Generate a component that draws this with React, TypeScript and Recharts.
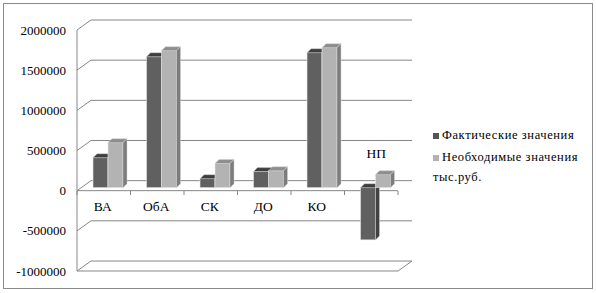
import { BarChart, Bar, XAxis, YAxis, CartesianGrid, Legend } from "recharts"

const categories = ["ВА", "ОбА", "СК", "ДО", "КО", "НП"]
const actualValues = [373000, 1630000, 112000, 200000, 1680000, -650000]
const requiredValues = [560000, 1705000, 300000, 210000, 1743000, 162000]
const yTicks = [-1000000, -500000, 0, 500000, 1000000, 1500000, 2000000]
const seriesNames = ["Фактические значения", "Необходимые значения"]
const unitLabel = "тыс.руб."

const data = categories.map((name, i) => ({
  name,
  actual: actualValues[i],
  required: requiredValues[i],
}))

const FONT = "'Liberation Serif', 'Times New Roman', serif"
const GRID = "#868686"
// depth of the fake 3d wall / bars
const WALL_DX = 14
const WALL_DY = -10
const BAR_DX = 4
const BAR_DY = -3
const DEPTH = 4
const PLOT_LEFT = 77
const PLOT_RIGHT = 398
const ZERO_Y = 191
const BAND = (PLOT_RIGHT - PLOT_LEFT) / categories.length

const makeBar = (front: string, top: string, side: string) => (props: any) => {
  const { x, y, width, height } = props
  if (width == null || height == null) return <g />
  const t = Math.min(y, y + height) + BAR_DY
  const h = Math.abs(height)
  const l = x + BAR_DX
  const r = l + width
  return (
    <g>
      <rect x={l} y={t} width={width} height={h} fill={front} stroke="#e6e6e6" strokeWidth={0.6} />
      <polygon
        points={`${l},${t} ${l + DEPTH},${t - DEPTH} ${r + DEPTH},${t - DEPTH} ${r},${t}`}
        fill={top}
        stroke="#d0d0d0"
        strokeWidth={0.5}
      />
      <polygon
        points={`${r},${t} ${r + DEPTH},${t - DEPTH} ${r + DEPTH},${t + h - DEPTH} ${r},${t + h}`}
        fill={side}
        stroke="#d0d0d0"
        strokeWidth={0.5}
      />
    </g>
  )
}

const DarkBar = makeBar("#606060", "#3e3e3e", "#424242")
const LightBar = makeBar("#b3b3b3", "#8e8e8e", "#7c7c7c")

const gridLine = (props: any) => {
  const { x1, x2, y1 } = props
  const bx = x1 + WALL_DX
  const by = y1 + WALL_DY
  let d = `M${x1},${y1} L${bx},${by} L${x2 + WALL_DX},${by}`
  if (y1 > 265) {
    d += ` M${x1},${y1} L${x2},${y1} L${x2 + WALL_DX},${by}`
  }
  if (Math.abs(y1 - ZERO_Y) < 1.5) {
    d += ` M${x1},${y1} L${x2},${y1}`
  }
  return <path key={`g-${y1}`} d={d} stroke={GRID} strokeWidth={1} fill="none" />
}

const CategoryTick = (props: any) => {
  const { x, payload, index } = props
  const label = payload.value
  const isNp = label === "НП"
  const lx = isNp ? x + 5 : x - 1
  const ly = isNp ? 158 : 211
  const right = x + BAND / 2
  return (
    <g>
      {index === 0 && (
        <line x1={x - BAND / 2} x2={x - BAND / 2} y1={ZERO_Y} y2={ZERO_Y + 4} stroke={GRID} />
      )}
      <line x1={right} x2={right} y1={ZERO_Y} y2={ZERO_Y + 4} stroke={GRID} />
      <text x={lx} y={ly} textAnchor="middle" fontSize={13.5} fontFamily={FONT} fill="#000">
        {label}
      </text>
    </g>
  )
}

const LegendBox = () => (
  <div style={{ fontFamily: FONT, fontSize: 12.5, letterSpacing: 0.6, color: "#000", lineHeight: "22px" }}>
    <div>
      <span style={{ display: "inline-block", width: 6, height: 6, background: "#555", marginRight: 3 }} />
      {seriesNames[0]}
    </div>
    <div>
      <span style={{ display: "inline-block", width: 6, height: 6, background: "#b3b3b3", marginRight: 3 }} />
      {seriesNames[1]}
    </div>
    <div style={{ marginTop: -2 }}>{unitLabel}</div>
  </div>
)

export default function App() {
  return (
    <div style={{ position: "absolute", left: 0, top: 0, width: 596, height: 293, background: "#fff" }}>
      <div
        style={{
          position: "absolute",
          left: 3,
          top: 3,
          width: 588,
          height: 284,
          border: "1px solid #8a8a8a",
        }}
      />
      <BarChart
        width={596}
        height={293}
        data={data}
        margin={{ top: 30, right: 198, bottom: 21, left: 17 }}
        barSize={15}
        barGap={0}
        style={{ fontFamily: FONT }}
      >
        <CartesianGrid vertical={false} horizontal={gridLine} />
        <XAxis
          dataKey="name"
          height={1}
          axisLine={false}
          tickLine={false}
          tickSize={0}
          tickMargin={0}
          interval={0}
          tick={CategoryTick}
        />
        <YAxis
          width={60}
          domain={[-1000000, 2000000]}
          ticks={yTicks}
          interval={0}
          axisLine={{ stroke: GRID }}
          tickLine={false}
          tickSize={0}
          tickMargin={11}
          tick={{ fill: "#000", fontSize: 13, fontFamily: FONT }}
        />
        <Legend
          layout="vertical"
          align="center"
          verticalAlign="middle"
          wrapperStyle={{ left: 433, top: 124, width: 160 }}
          content={LegendBox}
        />
        <Bar dataKey="actual" name={seriesNames[0]} shape={DarkBar} isAnimationActive={false} />
        <Bar dataKey="required" name={seriesNames[1]} shape={LightBar} isAnimationActive={false} />
      </BarChart>
    </div>
  )
}
